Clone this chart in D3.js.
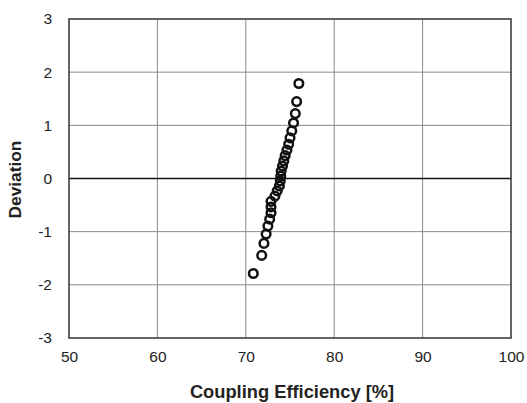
<!DOCTYPE html>
<html>
<head>
<meta charset="utf-8">
<script src="https://cdn.jsdelivr.net/npm/d3@7"></script>
<style>
  body { margin: 0; background: #fff; }
  text { font-family: "Liberation Sans", Arial, sans-serif; }
</style>
</head>
<body>
<div id="chart"></div>
<script>
var width = 527;
var height = 403;

var margin = { top: 19, right: 16, bottom: 65, left: 69 };

// coupling efficiency [%] and normal deviation
var efficiency = [70.85, 71.8, 72.05, 72.3, 72.5, 72.7, 72.85, 72.85, 72.85, 73.3, 73.55, 73.8, 73.9,
                  73.95, 74.0, 74.15, 74.3, 74.45, 74.65, 74.85, 75.0, 75.2, 75.4, 75.6, 75.75, 76.0];
var deviation = [-1.786, -1.446, -1.221, -1.045, -0.895, -0.765, -0.645, -0.535, -0.43, -0.331, -0.234, -0.14, -0.046,
                 0.046, 0.14, 0.234, 0.331, 0.43, 0.535, 0.645, 0.765, 0.895, 1.045, 1.221, 1.446, 1.786];

var xTicks = [50, 60, 70, 80, 90, 100];
var yTicks = [-3, -2, -1, 0, 1, 2, 3];

var points = efficiency.map(function(d, i) {
  return { x: d, y: deviation[i] };
});

var svg = d3.select("#chart")
  .append("svg")
  .attr("width", width)
  .attr("height", height);

var innerW = width - margin.left - margin.right;
var innerH = height - margin.top - margin.bottom;

var xScale = d3.scaleLinear().domain([50, 100]).range([margin.left, margin.left + innerW]);
var yScale = d3.scaleLinear().domain([-3, 3]).range([margin.top + innerH, margin.top]);

// grid
svg.append("g")
  .selectAll("line")
  .data(xTicks.slice(1, -1))
  .enter()
  .append("line")
  .attr("x1", d => xScale(d))
  .attr("x2", d => xScale(d))
  .attr("y1", margin.top)
  .attr("y2", margin.top + innerH)
  .attr("stroke", "#8a8a8a")
  .attr("stroke-width", 1);

svg.append("g")
  .selectAll("line")
  .data(yTicks.slice(1, -1))
  .enter()
  .append("line")
  .attr("x1", margin.left)
  .attr("x2", margin.left + innerW)
  .attr("y1", d => yScale(d))
  .attr("y2", d => yScale(d))
  .attr("stroke", d => d === 0 ? "#111" : "#8a8a8a")
  .attr("stroke-width", d => d === 0 ? 1.3 : 1);

// frame
svg.append("rect")
  .attr("x", margin.left)
  .attr("y", margin.top)
  .attr("width", innerW)
  .attr("height", innerH)
  .attr("fill", "none")
  .attr("stroke", "#333")
  .attr("stroke-width", 1.5);

// axes (labels only)
var plain = d => String(d);
var xAxis = d3.axisBottom(xScale).tickValues(xTicks).tickFormat(plain).tickSize(0).tickPadding(13);
var yAxis = d3.axisLeft(yScale).tickValues(yTicks).tickFormat(plain).tickSize(0).tickPadding(17);

svg.append("g")
  .attr("transform", "translate(0," + (margin.top + innerH) + ")")
  .call(xAxis)
  .call(g => g.select(".domain").remove())
  .selectAll("text")
  .attr("font-size", 15.5)
  .attr("font-family", "Liberation Sans, Arial, sans-serif")
  .attr("fill", "#222");

svg.append("g")
  .attr("transform", "translate(" + margin.left + ",0)")
  .call(yAxis)
  .call(g => g.select(".domain").remove())
  .selectAll("text")
  .attr("font-size", 15.5)
  .attr("font-family", "Liberation Sans, Arial, sans-serif")
  .attr("fill", "#222");

// points
svg.append("g")
  .selectAll("circle")
  .data(points)
  .enter()
  .append("circle")
  .attr("cx", d => xScale(d.x))
  .attr("cy", d => yScale(d.y))
  .attr("r", 4.3)
  .attr("fill", "none")
  .attr("stroke", "#111")
  .attr("stroke-width", 2.5);

// titles
svg.append("text")
  .text("Coupling Efficiency [%]")
  .attr("x", 292)
  .attr("y", 398)
  .attr("text-anchor", "middle")
  .attr("font-size", 18.3)
  .attr("font-weight", "bold")
  .attr("fill", "#222");

svg.append("text")
  .text("Deviation")
  .attr("transform", "translate(21," + (margin.top + innerH / 2 + 1) + ") rotate(-90)")
  .attr("text-anchor", "middle")
  .attr("font-size", 17.3)
  .attr("font-weight", "bold")
  .attr("fill", "#222");
</script>
</body>
</html>
